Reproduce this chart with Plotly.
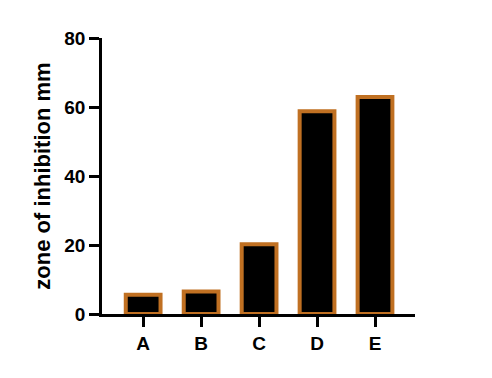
import plotly.graph_objects as go

categories = ["A", "B", "C", "D", "E"]
values = [5.6, 6.5, 20.2, 58.8, 62.9]
y_ticks = [0, 20, 40, 60, 80]

fig = go.Figure()
fig.add_trace(go.Bar(
    x=categories, y=values, width=0.6,
    marker=dict(color="black", line=dict(color="rgb(192,112,34)", width=4)),
))

fig.update_layout(
    width=492, height=378,
    margin=dict(l=102, r=77, t=38, b=64),
    paper_bgcolor="white", plot_bgcolor="white",
    showlegend=False,
    font=dict(family="Liberation Sans, Arial", color="black"),
)
fig.update_xaxes(
    range=[-0.71, 4.69], showline=True, linecolor="black", linewidth=2.5,
    ticks="outside", ticklen=10, tickwidth=2.5, tickcolor="black",
    tickfont=dict(size=19, family="Liberation Sans, Arial", weight="bold"),
    showgrid=False, zeroline=False,
)
fig.update_yaxes(
    range=[0, 80], tickvals=y_ticks, showline=True, linecolor="black", linewidth=2.5,
    ticks="outside", ticklen=10, tickwidth=2.5, tickcolor="black",
    tickfont=dict(size=19, family="Liberation Sans, Arial", weight="bold"),
    showgrid=False, zeroline=False,
    title=dict(text="zone of inhibition mm", standoff=8,
               font=dict(size=22, family="Liberation Sans, Arial", weight="bold")),
)

fig.write_html("out.html")
